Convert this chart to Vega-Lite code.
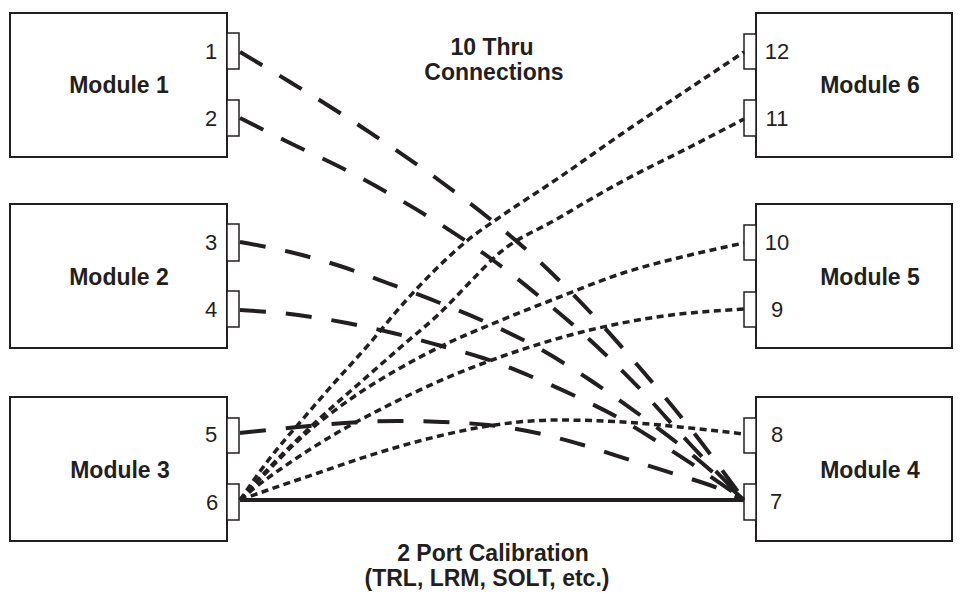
{
  "$schema": "https://vega.github.io/schema/vega-lite/v6.json",
  "width": 962,
  "height": 593,
  "autosize": {"type": "fit", "contains": "padding"},
  "padding": 0,
  "background": "white",
  "config": {"view": {"stroke": null}},
  "datasets": {
    "boxes": [
      {"k": "module", "name": "Module 1", "x": 10, "x2": 227, "y": 13, "y2": 157},
      {"k": "module", "name": "Module 2", "x": 10, "x2": 227, "y": 204, "y2": 348},
      {"k": "module", "name": "Module 3", "x": 10, "x2": 227, "y": 397, "y2": 541},
      {"k": "module", "name": "Module 6", "x": 756, "x2": 952, "y": 13, "y2": 157},
      {"k": "module", "name": "Module 5", "x": 756, "x2": 952, "y": 204, "y2": 348},
      {"k": "module", "name": "Module 4", "x": 756, "x2": 952, "y": 397, "y2": 541},
      {"k": "port", "name": "1", "x": 227, "x2": 239, "y": 33, "y2": 69},
      {"k": "port", "name": "2", "x": 227, "x2": 239, "y": 100, "y2": 136},
      {"k": "port", "name": "3", "x": 227, "x2": 239, "y": 224, "y2": 261},
      {"k": "port", "name": "4", "x": 227, "x2": 239, "y": 291, "y2": 327},
      {"k": "port", "name": "5", "x": 227, "x2": 239, "y": 418, "y2": 453},
      {"k": "port", "name": "6", "x": 227, "x2": 239, "y": 484, "y2": 520},
      {"k": "port", "name": "12", "x": 744, "x2": 756, "y": 34, "y2": 69},
      {"k": "port", "name": "11", "x": 744, "x2": 756, "y": 100, "y2": 136},
      {"k": "port", "name": "10", "x": 744, "x2": 756, "y": 225, "y2": 260},
      {"k": "port", "name": "9", "x": 744, "x2": 756, "y": 292, "y2": 327},
      {"k": "port", "name": "8", "x": 744, "x2": 756, "y": 418, "y2": 453},
      {"k": "port", "name": "7", "x": 744, "x2": 756, "y": 484, "y2": 520}
    ],
    "links": [
      {"c": "1-7", "t": "dashed", "i": 0, "x": 240, "y": 52},
      {"c": "1-7", "t": "dashed", "i": 1, "x": 290, "y": 82},
      {"c": "1-7", "t": "dashed", "i": 2, "x": 340, "y": 113},
      {"c": "1-7", "t": "dashed", "i": 3, "x": 390, "y": 146},
      {"c": "1-7", "t": "dashed", "i": 4, "x": 440, "y": 181},
      {"c": "1-7", "t": "dashed", "i": 5, "x": 490, "y": 219},
      {"c": "1-7", "t": "dashed", "i": 6, "x": 540, "y": 262},
      {"c": "1-7", "t": "dashed", "i": 7, "x": 590, "y": 312},
      {"c": "1-7", "t": "dashed", "i": 8, "x": 640, "y": 368},
      {"c": "1-7", "t": "dashed", "i": 9, "x": 690, "y": 428},
      {"c": "1-7", "t": "dashed", "i": 10, "x": 744, "y": 500},
      {"c": "2-7", "t": "dashed", "i": 0, "x": 240, "y": 118},
      {"c": "2-7", "t": "dashed", "i": 1, "x": 290, "y": 143},
      {"c": "2-7", "t": "dashed", "i": 2, "x": 340, "y": 167},
      {"c": "2-7", "t": "dashed", "i": 3, "x": 390, "y": 194},
      {"c": "2-7", "t": "dashed", "i": 4, "x": 440, "y": 224},
      {"c": "2-7", "t": "dashed", "i": 5, "x": 490, "y": 258},
      {"c": "2-7", "t": "dashed", "i": 6, "x": 540, "y": 297},
      {"c": "2-7", "t": "dashed", "i": 7, "x": 590, "y": 340},
      {"c": "2-7", "t": "dashed", "i": 8, "x": 640, "y": 389},
      {"c": "2-7", "t": "dashed", "i": 9, "x": 690, "y": 444},
      {"c": "2-7", "t": "dashed", "i": 10, "x": 744, "y": 500},
      {"c": "3-7", "t": "dashed", "i": 0, "x": 240, "y": 242},
      {"c": "3-7", "t": "dashed", "i": 1, "x": 290, "y": 252},
      {"c": "3-7", "t": "dashed", "i": 2, "x": 340, "y": 266},
      {"c": "3-7", "t": "dashed", "i": 3, "x": 390, "y": 284},
      {"c": "3-7", "t": "dashed", "i": 4, "x": 440, "y": 303},
      {"c": "3-7", "t": "dashed", "i": 5, "x": 490, "y": 324},
      {"c": "3-7", "t": "dashed", "i": 6, "x": 540, "y": 349},
      {"c": "3-7", "t": "dashed", "i": 7, "x": 590, "y": 380},
      {"c": "3-7", "t": "dashed", "i": 8, "x": 640, "y": 415},
      {"c": "3-7", "t": "dashed", "i": 9, "x": 690, "y": 453},
      {"c": "3-7", "t": "dashed", "i": 10, "x": 744, "y": 500},
      {"c": "4-7", "t": "dashed", "i": 0, "x": 240, "y": 310},
      {"c": "4-7", "t": "dashed", "i": 1, "x": 298, "y": 315},
      {"c": "4-7", "t": "dashed", "i": 2, "x": 347, "y": 323},
      {"c": "4-7", "t": "dashed", "i": 3, "x": 393, "y": 333},
      {"c": "4-7", "t": "dashed", "i": 4, "x": 438, "y": 345},
      {"c": "4-7", "t": "dashed", "i": 5, "x": 483, "y": 358},
      {"c": "4-7", "t": "dashed", "i": 6, "x": 530, "y": 376},
      {"c": "4-7", "t": "dashed", "i": 7, "x": 573, "y": 395},
      {"c": "4-7", "t": "dashed", "i": 8, "x": 617, "y": 417},
      {"c": "4-7", "t": "dashed", "i": 9, "x": 658, "y": 442},
      {"c": "4-7", "t": "dashed", "i": 10, "x": 698, "y": 468},
      {"c": "4-7", "t": "dashed", "i": 11, "x": 744, "y": 500},
      {"c": "5-7", "t": "dashed", "i": 0, "x": 240, "y": 433},
      {"c": "5-7", "t": "dashed", "i": 1, "x": 298, "y": 427},
      {"c": "5-7", "t": "dashed", "i": 2, "x": 345, "y": 423},
      {"c": "5-7", "t": "dashed", "i": 3, "x": 398, "y": 421},
      {"c": "5-7", "t": "dashed", "i": 4, "x": 442, "y": 422},
      {"c": "5-7", "t": "dashed", "i": 5, "x": 488, "y": 425},
      {"c": "5-7", "t": "dashed", "i": 6, "x": 537, "y": 433},
      {"c": "5-7", "t": "dashed", "i": 7, "x": 583, "y": 445},
      {"c": "5-7", "t": "dashed", "i": 8, "x": 630, "y": 460},
      {"c": "5-7", "t": "dashed", "i": 9, "x": 675, "y": 474},
      {"c": "5-7", "t": "dashed", "i": 10, "x": 720, "y": 489},
      {"c": "5-7", "t": "dashed", "i": 11, "x": 744, "y": 500},
      {"c": "6-12", "t": "dotted", "i": 0, "x": 240, "y": 500},
      {"c": "6-12", "t": "dotted", "i": 1, "x": 270, "y": 458},
      {"c": "6-12", "t": "dotted", "i": 2, "x": 302, "y": 420},
      {"c": "6-12", "t": "dotted", "i": 3, "x": 335, "y": 382},
      {"c": "6-12", "t": "dotted", "i": 4, "x": 370, "y": 343},
      {"c": "6-12", "t": "dotted", "i": 5, "x": 402, "y": 305},
      {"c": "6-12", "t": "dotted", "i": 6, "x": 435, "y": 270},
      {"c": "6-12", "t": "dotted", "i": 7, "x": 468, "y": 240},
      {"c": "6-12", "t": "dotted", "i": 8, "x": 500, "y": 217},
      {"c": "6-12", "t": "dotted", "i": 9, "x": 560, "y": 177},
      {"c": "6-12", "t": "dotted", "i": 10, "x": 623, "y": 133},
      {"c": "6-12", "t": "dotted", "i": 11, "x": 690, "y": 88},
      {"c": "6-12", "t": "dotted", "i": 12, "x": 744, "y": 52},
      {"c": "6-11", "t": "dotted", "i": 0, "x": 240, "y": 500},
      {"c": "6-11", "t": "dotted", "i": 1, "x": 268, "y": 469},
      {"c": "6-11", "t": "dotted", "i": 2, "x": 318, "y": 420},
      {"c": "6-11", "t": "dotted", "i": 3, "x": 362, "y": 381},
      {"c": "6-11", "t": "dotted", "i": 4, "x": 402, "y": 346},
      {"c": "6-11", "t": "dotted", "i": 5, "x": 440, "y": 313},
      {"c": "6-11", "t": "dotted", "i": 6, "x": 475, "y": 277},
      {"c": "6-11", "t": "dotted", "i": 7, "x": 497, "y": 255},
      {"c": "6-11", "t": "dotted", "i": 8, "x": 557, "y": 219},
      {"c": "6-11", "t": "dotted", "i": 9, "x": 623, "y": 181},
      {"c": "6-11", "t": "dotted", "i": 10, "x": 690, "y": 147},
      {"c": "6-11", "t": "dotted", "i": 11, "x": 744, "y": 119},
      {"c": "6-10", "t": "dotted", "i": 0, "x": 240, "y": 500},
      {"c": "6-10", "t": "dotted", "i": 1, "x": 262, "y": 477},
      {"c": "6-10", "t": "dotted", "i": 2, "x": 302, "y": 437},
      {"c": "6-10", "t": "dotted", "i": 3, "x": 352, "y": 398},
      {"c": "6-10", "t": "dotted", "i": 4, "x": 402, "y": 367},
      {"c": "6-10", "t": "dotted", "i": 5, "x": 448, "y": 343},
      {"c": "6-10", "t": "dotted", "i": 6, "x": 492, "y": 324},
      {"c": "6-10", "t": "dotted", "i": 7, "x": 557, "y": 298},
      {"c": "6-10", "t": "dotted", "i": 8, "x": 623, "y": 273},
      {"c": "6-10", "t": "dotted", "i": 9, "x": 690, "y": 255},
      {"c": "6-10", "t": "dotted", "i": 10, "x": 744, "y": 243},
      {"c": "6-9", "t": "dotted", "i": 0, "x": 240, "y": 500},
      {"c": "6-9", "t": "dotted", "i": 1, "x": 252, "y": 490},
      {"c": "6-9", "t": "dotted", "i": 2, "x": 285, "y": 466},
      {"c": "6-9", "t": "dotted", "i": 3, "x": 335, "y": 434},
      {"c": "6-9", "t": "dotted", "i": 4, "x": 385, "y": 407},
      {"c": "6-9", "t": "dotted", "i": 5, "x": 435, "y": 383},
      {"c": "6-9", "t": "dotted", "i": 6, "x": 492, "y": 360},
      {"c": "6-9", "t": "dotted", "i": 7, "x": 533, "y": 346},
      {"c": "6-9", "t": "dotted", "i": 8, "x": 590, "y": 330},
      {"c": "6-9", "t": "dotted", "i": 9, "x": 657, "y": 317},
      {"c": "6-9", "t": "dotted", "i": 10, "x": 744, "y": 309},
      {"c": "6-8", "t": "dotted", "i": 0, "x": 240, "y": 500},
      {"c": "6-8", "t": "dotted", "i": 1, "x": 268, "y": 490},
      {"c": "6-8", "t": "dotted", "i": 2, "x": 318, "y": 473},
      {"c": "6-8", "t": "dotted", "i": 3, "x": 368, "y": 456},
      {"c": "6-8", "t": "dotted", "i": 4, "x": 435, "y": 437},
      {"c": "6-8", "t": "dotted", "i": 5, "x": 488, "y": 426},
      {"c": "6-8", "t": "dotted", "i": 6, "x": 557, "y": 420},
      {"c": "6-8", "t": "dotted", "i": 7, "x": 623, "y": 422},
      {"c": "6-8", "t": "dotted", "i": 8, "x": 690, "y": 428},
      {"c": "6-8", "t": "dotted", "i": 9, "x": 744, "y": 434},
      {"c": "6-7", "t": "solid", "i": 0, "x": 240, "y": 500},
      {"c": "6-7", "t": "solid", "i": 1, "x": 744, "y": 500}
    ],
    "labels": [
      {"k": "module", "text": "Module 1", "x": 119, "y": 93},
      {"k": "module", "text": "Module 2", "x": 119, "y": 285},
      {"k": "module", "text": "Module 3", "x": 120, "y": 478},
      {"k": "module", "text": "Module 6", "x": 870, "y": 93},
      {"k": "module", "text": "Module 5", "x": 870, "y": 285},
      {"k": "module", "text": "Module 4", "x": 870, "y": 478},
      {"k": "port", "text": "1", "x": 211, "y": 59},
      {"k": "port", "text": "2", "x": 211, "y": 126},
      {"k": "port", "text": "3", "x": 211, "y": 250},
      {"k": "port", "text": "4", "x": 211, "y": 317},
      {"k": "port", "text": "5", "x": 211, "y": 442},
      {"k": "port", "text": "6", "x": 212, "y": 510},
      {"k": "port", "text": "12", "x": 777, "y": 59},
      {"k": "port", "text": "11", "x": 777, "y": 126},
      {"k": "port", "text": "10", "x": 777, "y": 250},
      {"k": "port", "text": "9", "x": 777, "y": 317},
      {"k": "port", "text": "8", "x": 777, "y": 442},
      {"k": "port", "text": "7", "x": 776, "y": 509},
      {"k": "title", "text": "10 Thru", "x": 492, "y": 55},
      {"k": "title", "text": "Connections", "x": 494, "y": 80},
      {"k": "title", "text": "2 Port Calibration", "x": 493, "y": 561},
      {"k": "title", "text": "(TRL, LRM, SOLT, etc.)", "x": 487, "y": 586}
    ]
  },
  "encoding": {
    "x": {"field": "x", "type": "quantitative", "scale": {"domain": [0, 962], "nice": false, "zero": false}, "axis": null},
    "y": {"field": "y", "type": "quantitative", "scale": {"domain": [0, 593], "nice": false, "zero": false, "reverse": true}, "axis": null}
  },
  "layer": [
    {
      "data": {"name": "boxes"},
      "transform": [{"filter": "datum.k === 'module'"}],
      "mark": {"type": "rect", "fill": "white", "stroke": "#231f20", "strokeWidth": 2},
      "encoding": {"x2": {"field": "x2"}, "y2": {"field": "y2"}}
    },
    {
      "data": {"name": "boxes"},
      "transform": [{"filter": "datum.k === 'port'"}],
      "mark": {"type": "rect", "fill": "white", "stroke": "#231f20", "strokeWidth": 1.5},
      "encoding": {"x2": {"field": "x2"}, "y2": {"field": "y2"}}
    },
    {
      "data": {"name": "links"},
      "transform": [{"filter": "datum.t === 'dashed'"}],
      "mark": {"type": "line", "interpolate": "monotone", "stroke": "#231f20", "strokeWidth": 4, "strokeDash": [26, 20], "strokeCap": "butt"},
      "encoding": {"detail": {"field": "c"}, "order": {"field": "i", "type": "quantitative"}}
    },
    {
      "data": {"name": "links"},
      "transform": [{"filter": "datum.t === 'dotted'"}],
      "mark": {"type": "line", "interpolate": "monotone", "stroke": "#231f20", "strokeWidth": 3.5, "strokeDash": [7, 4.5], "strokeCap": "butt"},
      "encoding": {"detail": {"field": "c"}, "order": {"field": "i", "type": "quantitative"}}
    },
    {
      "data": {"name": "links"},
      "transform": [{"filter": "datum.t === 'solid'"}],
      "mark": {"type": "line", "stroke": "#231f20", "strokeWidth": 4},
      "encoding": {"detail": {"field": "c"}, "order": {"field": "i", "type": "quantitative"}}
    },
    {
      "data": {"name": "labels"},
      "transform": [{"filter": "datum.k === 'module' || datum.k === 'title'"}],
      "mark": {"type": "text", "font": "Liberation Sans", "fontSize": 23, "fontWeight": "bold", "align": "center", "baseline": "alphabetic", "color": "#231f20"},
      "encoding": {"text": {"field": "text"}}
    },
    {
      "data": {"name": "labels"},
      "transform": [{"filter": "datum.k === 'port'"}],
      "mark": {"type": "text", "font": "Liberation Sans", "fontSize": 22, "align": "center", "baseline": "alphabetic", "color": "#231f20"},
      "encoding": {"text": {"field": "text"}}
    }
  ]
}
